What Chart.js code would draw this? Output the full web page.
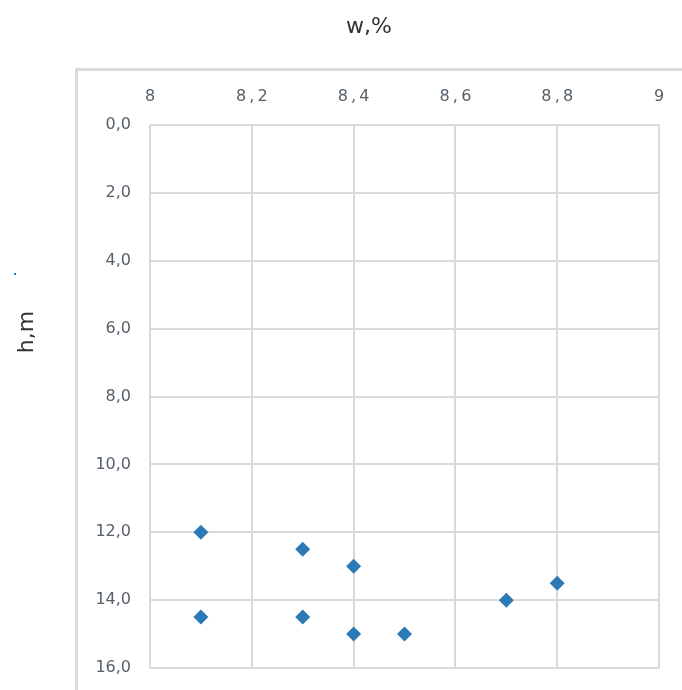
<!DOCTYPE html>
<html>
<head>
<meta charset="utf-8">
<script src="https://cdn.jsdelivr.net/npm/chart.js@4/dist/chart.umd.min.js"></script>
<style>
  html, body { margin: 0; padding: 0; background: #fff; }
  #wrap { width: 682px; height: 690px; position: relative; }
</style>
</head>
<body>
<div id="wrap"><canvas id="c" width="682" height="690"></canvas></div>
<script>
// Moisture (w, %) measured at depth (h, m)
const moisture = [8.1, 8.3, 8.4, 8.8, 8.7, 8.1, 8.3, 8.4, 8.5];
const depth    = [12.0, 12.5, 13.0, 13.5, 14.0, 14.5, 14.5, 15.0, 15.0];

const xTickLabels = ['8', '8\u2009,\u20092', '8\u2009,\u20094', '8\u2009,\u20096', '8\u2009,\u20098', '9'];
const yTickLabels = ['0,0', '2,0', '4,0', '6,0', '8,0', '10,0', '12,0', '14,0', '16,0'];

const xTitle = 'w,%';
const yTitle = 'h,m';

const FONT = '"DejaVu Sans", "Noto Sans", sans-serif';
const GRID = '#d9d9d9';
const TICK = '#56606a';

// Frame and axis titles drawn around the plot
const decorations = {
  id: 'decorations',
  beforeDraw(chart) {
    const ctx = chart.ctx;
    ctx.save();
    ctx.strokeStyle = '#dcdcdc';
    ctx.lineWidth = 3;
    ctx.beginPath();
    ctx.moveTo(76.5, 690);
    ctx.lineTo(76.5, 69.5);
    ctx.lineTo(682, 69.5);
    ctx.stroke();
    ctx.restore();
  },
  afterDraw(chart) {
    const ctx = chart.ctx;
    ctx.save();
    ctx.fillStyle = '#333333';
    ctx.font = '22px ' + FONT;
    ctx.textAlign = 'center';
    ctx.textBaseline = 'alphabetic';
    ctx.fillText(xTitle, 369, 33);
    ctx.translate(33, 332);
    ctx.rotate(-Math.PI / 2);
    ctx.fillText(yTitle, 0, 0);
    ctx.restore();
    ctx.save();
    ctx.fillStyle = '#2a7ab8';
    ctx.fillRect(14, 273, 2, 2);
    ctx.restore();
  }
};

new Chart(document.getElementById('c'), {
  type: 'scatter',
  data: {
    datasets: [{
      data: moisture.map((w, i) => ({ x: w, y: depth[i] })),
      pointStyle: 'rectRot',
      pointRadius: 7.5,
      pointHoverRadius: 7.5,
      backgroundColor: '#2a7ab8',
      borderColor: '#2a7ab8',
      borderWidth: 0
    }]
  },
  options: {
    responsive: false,
    animation: false,
    layout: { padding: { left: 75, top: 68, right: 23, bottom: 22 } },
    plugins: { legend: { display: false }, tooltip: { enabled: false } },
    scales: {
      x: {
        type: 'linear',
        position: 'top',
        min: 8, max: 9,
        afterFit(s) { s.height = 57; s.paddingLeft = 0; s.paddingRight = 0; },
        afterBuildTicks(s) { s.ticks = xTickLabels.map((_, i) => ({ value: 8 + i * 0.2 })); },
        ticks: {
          padding: 19,
          color: TICK,
          font: { family: FONT, size: 16 },
          callback: (v, i) => xTickLabels[i]
        },
        grid: { color: GRID, lineWidth: 2, drawTicks: false },
        border: { display: false }
      },
      y: {
        type: 'linear',
        reverse: true,
        min: 0, max: 16,
        afterFit(s) { s.width = 75; s.paddingTop = 0; s.paddingBottom = 0; },
        afterBuildTicks(s) { s.ticks = yTickLabels.map((_, i) => ({ value: i * 2 })); },
        ticks: {
          padding: 19,
          color: TICK,
          font: { family: FONT, size: 16 },
          callback: (v, i) => yTickLabels[i]
        },
        grid: { color: GRID, lineWidth: 2, drawTicks: false },
        border: { display: false }
      }
    }
  },
  plugins: [decorations]
});
</script>
</body>
</html>
